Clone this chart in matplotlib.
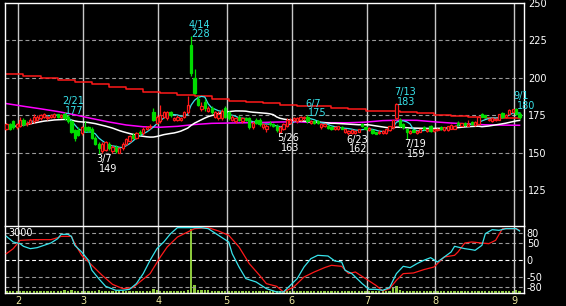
import numpy as np
import pandas as pd
import matplotlib
matplotlib.use('Agg')
import matplotlib.pyplot as plt

plt.rcParams['font.family'] = ['DejaVu Sans']

# daily candles, Jan 26 .. Sep 2
opens = [166, 169, 171, 167, 168, 172, 169, 170, 171, 172,
         173, 174, 173, 174, 174, 176, 174, 176, 174, 171,
         165, 165, 163, 167, 167, 166, 160, 156, 151, 152,
         156, 151, 154, 150, 153, 156, 158, 162, 160, 164,
         163, 166, 167, 177, 170, 171, 174, 173, 177, 172,
         172, 172, 174, 177, 222, 200, 186, 179, 184, 178,
         180, 174, 173, 173, 180, 177, 172, 171, 174, 171,
         173, 173, 167, 172, 172, 167, 166, 170, 169, 168,
         164, 166, 168, 170, 172, 171, 172, 173, 174, 170,
         171, 171, 167, 168, 168, 167, 166, 166, 167, 164,
         163, 163, 163, 164, 169, 167, 165, 165, 163.5, 163,
         163, 163, 165, 167, 173, 172, 169, 166, 163, 165,
         163, 164, 167, 164.5, 168, 164.5, 165, 167, 165, 165,
         166, 166, 170, 168, 170, 168, 170.5, 168.5, 169, 176,
         175, 171.5, 171, 171.5, 172, 176.5, 173.5, 176, 177, 179, 176]
highs = [170, 170, 172, 170, 174, 173, 171, 173, 176, 175,
         176, 176.5, 175, 176, 176.5, 176, 176, 177, 175, 172,
         166, 167, 168, 171, 168, 167, 161, 157, 157, 158,
         157, 155, 155, 154, 157, 160, 162, 163, 164, 165,
         167, 168, 169, 180, 175, 182, 178, 178, 178, 174,
         175, 174, 178, 188, 228, 206, 188, 184, 186, 181,
         181, 178, 178, 179, 181, 178, 175, 174, 175, 174,
         174, 174, 171, 173, 173, 170, 169, 171, 170, 169,
         168, 170, 173, 173, 174, 174, 174.5, 174.5, 175, 172,
         172, 171.5, 170, 170, 168.5, 167.5, 168, 168, 167.5, 166,
         165, 166, 165, 166, 170, 168, 167, 166, 164, 165,
         165, 166, 168, 172, 183, 173, 170, 166.5, 165, 166,
         165, 166, 167.5, 166, 168.5, 166, 166.5, 167.5, 167, 168,
         169, 168.5, 171, 170, 170.5, 172, 171, 171, 174, 176.5,
         175.5, 173, 173.5, 173, 176, 177, 176, 179, 179.5, 180, 177]
lows = [165, 165, 166, 166, 167, 168, 168, 169, 170, 171,
        172, 173, 172, 173, 173, 173, 173, 172, 170, 163,
        158, 161, 162, 164, 164, 159, 155, 149, 150, 151,
        152, 150, 150, 150, 152, 155, 157, 159, 159, 162,
        162, 165, 166, 171, 169, 170, 173, 172, 174, 171,
        171, 171, 173, 176, 201, 189, 181, 178, 178, 177,
        176, 173, 172, 172, 173, 172, 171, 170, 171, 170,
        171, 166, 166, 169, 168, 166, 164, 168, 167, 164,
        163, 165, 167, 169, 171, 170, 171, 172, 170, 169,
        169, 169, 166, 167, 166, 165, 165, 165, 166, 163,
        162, 162.5, 162.5, 163.5, 167, 165, 164.5, 162.5, 162.5, 162.5,
        162.5, 162.5, 164.5, 166, 172, 167, 166, 159, 162.5, 163.5,
        162.5, 163.5, 165, 164, 164, 164, 164.5, 165, 164.5, 164.5,
        165.5, 165.5, 168, 167.5, 168, 167.5, 168.5, 168, 168.5, 173.5,
        173, 171, 170.5, 171, 171.5, 173, 173, 175.5, 176.5, 175, 172.5]
closes = [169, 166, 167, 169, 172, 169, 170, 172, 174, 174,
          175, 176, 174, 175, 176, 174, 175, 173, 171, 164,
          160, 162, 167, 165, 165, 160, 156, 153, 156, 157,
          153, 154, 151, 153, 156, 159, 161, 160, 163, 163,
          166, 167, 168, 172, 174, 175, 177, 177, 175, 173,
          174, 173, 177, 182, 203, 190, 182, 181, 180, 180,
          177, 177, 176, 178, 174, 173, 174, 173, 172, 173,
          172, 167, 170, 170, 169, 169, 168, 169, 168, 165,
          167, 169, 172, 172, 173, 173, 174, 174, 171, 171,
          170, 169.5, 169, 169, 166.5, 165.5, 167, 167.5, 166, 165.5,
          164.5, 165, 164.5, 165.5, 167.5, 165.5, 166.5, 163, 162.8, 164,
          164.5, 166, 167.5, 171.5, 182.5, 168, 167, 164, 164.5, 164,
          164.5, 165.5, 165.5, 165.5, 164.5, 165.5, 166, 165.5, 167, 167.5,
          168.5, 168, 169, 169.5, 168.5, 169, 169, 170.5, 173.5, 174,
          173.5, 172.5, 173, 172.5, 175.5, 173.5, 175.5, 178.5, 179, 176, 173.5]
volume = [95, 90, 105, 95, 100, 90, 85, 95, 105, 100,
          95, 105, 90, 95, 100, 95, 105, 125, 115, 140,
          120, 105, 95, 110, 100, 115, 120, 125, 105, 100,
          95, 90, 100, 95, 90, 105, 95, 90, 95, 100,
          105, 95, 110, 190, 125, 115, 105, 100, 95, 90,
          95, 100, 115, 140, 2850, 380, 150, 135, 130, 125,
          110, 105, 100, 95, 105, 95, 90, 100, 95, 90,
          95, 100, 90, 95, 85, 90, 95, 85, 90, 95,
          100, 95, 90, 95, 90, 95, 100, 105, 110, 95,
          90, 85, 95, 90, 85, 90, 95, 90, 85, 95,
          100, 95, 90, 95, 100, 95, 90, 95, 100, 95,
          90, 95, 120, 260, 320, 150, 115, 120, 105, 95,
          90, 95, 90, 85, 95, 90, 85, 90, 95, 90,
          95, 90, 95, 100, 95, 90, 95, 105, 100, 105,
          95, 90, 95, 100, 105, 95, 100, 115, 110, 125, 105]

# longer averages
week_days = list(range(0, 151, 5))
ma_mid = [182.8, 181, 179.3, 177.5, 175.3, 172.8, 170.5, 168.5, 167.3, 167, 167.6,
          168.8, 169.6, 169.8, 170, 170.2, 170.5, 170.6, 170.2, 170, 170, 170.4,
          171.4, 171.7, 171.6, 170.6, 169.8, 169.2, 168.6, 168.4, 168.3]
ma_long = [202.3, 201, 199.8, 198.7, 197.5, 195.8, 194.2, 192.4, 190.8, 189.6, 188.6,
           187.7, 185.8, 184.8, 184, 183, 182, 181.5, 181, 180, 179, 178,
           177.6, 177.4, 176.2, 175.2, 174.3, 173.5, 173.2, 173.3, 173.6]

# oscillators in the lower panel
fast_days = [0, 2, 4, 5, 7, 9, 11, 13, 15, 16, 18, 19, 20, 22, 24, 25, 27, 29, 32, 34,
             36, 38, 40, 42, 44, 46, 48, 50, 53, 57, 59, 62, 65, 66, 68, 70, 73, 76, 79, 81,
             83, 85, 87, 89, 91, 94, 96, 98, 99, 101, 102, 104, 106, 108, 110, 112, 114, 116, 118, 120,
             122, 124, 126, 128, 130, 131, 134, 136, 137, 139, 140, 142, 144, 146, 149, 150]
fast_vals = [71, 54, 49, 41, 34, 37, 44, 51, 64, 77, 77, 71, 44, 24, -1, -31, -56, -79, -91, -91,
             -88, -71, -41, -1, 34, 54, 79, 97, 97, 97, 94, 74, 54, 19, -21, -56, -66, -86, -96, -96,
             -76, -56, -21, 4, 14, 12, -3, -6, -31, -41, -51, -71, -88, -88, -91, -83, -41, -19, -23, -11,
             -1, 7, -6, 9, 24, 41, 34, 31, 29, 44, 79, 91, 89, 94, 94, 87]
slow_days = [0, 2, 4, 8, 13, 15, 16, 19, 20, 22, 25, 28, 31, 34, 37, 39, 42, 45, 47, 50,
             53, 55, 59, 62, 65, 68, 71, 74, 76, 79, 81, 84, 87, 90, 93, 95, 98, 100, 102, 105,
             108, 110, 112, 114, 116, 119, 122, 125, 127, 128, 131, 132, 134, 136, 139, 141, 143, 145, 147, 149,
             150]
slow_vals = [19, 34, 59, 61, 61, 67, 71, 71, 49, 14, -16, -46, -73, -86, -83, -66, -41, 9, 39, 69,
             84, 94, 97, 87, 74, 39, -11, -46, -71, -79, -96, -81, -51, -36, -23, -16, -19, -41, -36, -56,
             -76, -93, -86, -61, -41, -39, -29, -21, -1, 9, 14, 24, 51, 54, 51, 49, 59, 94, 94, 94,
             89]

month_first = [4, 23, 45, 65, 84, 106, 126, 149]
month_names = ['2', '3', '4', '5', '6', '7', '8', '9']

mark_days = [17, 27, 54, 80, 88, 100, 114, 117, 149]
mark_dates = ['2/21', '3/7', '4/14', '5/26', '6/7', '6/23', '7/13', '7/19', '9/1']
mark_kind = ['hi', 'lo', 'hi', 'lo', 'hi', 'lo', 'hi', 'lo', 'hi']

CYAN = '#38e4ec'
RED = '#ff1a1a'
GREEN = '#00dc00'
GRID = '#9a9a9a'
VLINE = '#c8c8c8'

o = np.array(opens, float)
h = np.array(highs, float)
l = np.array(lows, float)
c = np.array(closes, float)
h = np.maximum(h, np.maximum(o, c))
l = np.minimum(l, np.minimum(o, c))
x = np.arange(len(c))

ma5 = pd.Series(c).rolling(5, min_periods=1).mean()
ma25 = pd.Series(c).rolling(25, min_periods=1).mean()

fig = plt.figure(figsize=(5.66, 3.06), dpi=100, facecolor='black')
W, H = 566, 306
left, right = 4.5, 524
ax = fig.add_axes([left / W, 1 - 226 / H, (right - left) / W, 223 / H], facecolor='black')
ax2 = fig.add_axes([left / W, 1 - 293.3 / H, (right - left) / W, 67.3 / H], facecolor='black')

xlim = (-0.55, 151.3)
vl = [m - 0.6 for m in month_first]

# ---- price panel
ax.set_xlim(*xlim)
ax.set_ylim(101, 250)
for p in [225, 200, 175, 150, 125]:
    ax.axhline(p, color=GRID, lw=0.8, ls=(0, (3.5, 2.5)), zorder=1)
for v in vl:
    ax.axvline(v, color=VLINE, lw=1, zorder=1)

ax.plot(week_days, ma_long, color=RED, lw=1.1, drawstyle='steps-post', zorder=2)
ax.plot(week_days, ma_mid, color='#ff00ff', lw=1.1, zorder=2)
ax.plot(x, ma25, color='white', lw=1.1, zorder=2)
ax.plot(x, ma5, color=CYAN, lw=0.9, zorder=2)

up = c >= o
col = np.where(up, RED, GREEN)
ax.vlines(x, l, h, colors=col, lw=0.9, zorder=3)
body = np.maximum(np.abs(c - o), 0.4)
ax.bar(x, body, bottom=np.minimum(o, c), width=0.66,
       color=np.where(up, 'black', GREEN), edgecolor=col, lw=0.9, zorder=4)

for i, d, k in zip(mark_days, mark_dates, mark_kind):
    if k == 'hi':
        ax.annotate(str(int(h[i])), (i, h[i]), xytext=(0.4, -0.9), textcoords='offset points',
                    color=CYAN, fontsize=7, ha='left', va='baseline', zorder=6)
        ax.annotate(d, (i, h[i]), xytext=(-1.8, 6.0), textcoords='offset points',
                    color=CYAN, fontsize=7, ha='left', va='baseline', zorder=6)
    else:
        ax.annotate(d, (i, l[i]), xytext=(-1.8, -5.8), textcoords='offset points',
                    color='white', fontsize=7, ha='left', va='baseline', zorder=6)
        ax.annotate(str(int(l[i])), (i, l[i]), xytext=(0.4, -12.6), textcoords='offset points',
                    color='white', fontsize=7, ha='left', va='baseline', zorder=6)

ax.set_xticks([])
ax.yaxis.tick_right()
ax.set_yticks([125, 150, 175, 200, 225, 250])
ax.tick_params(axis='y', length=0, pad=3, labelcolor='white', labelsize=7)
for s in ['top', 'right', 'left']:
    ax.spines[s].set_color('white')
    ax.spines[s].set_linewidth(1)
ax.spines['bottom'].set_visible(False)

# ---- oscillator / volume panel
axv = ax2.twinx()
axv.set_xlim(*xlim)
axv.set_ylim(0, 3000)
axv.bar(x, volume, width=0.66, color='#8cc83c', zorder=1)
axv.set_yticks([])
for s in axv.spines.values():
    s.set_visible(False)
ax2.set_zorder(axv.get_zorder() + 1)
ax2.patch.set_visible(False)

ax2.set_xlim(*xlim)
ax2.set_ylim(-100, 102)
for p in [80, 50, -50, -80]:
    ax2.axhline(p, color=GRID, lw=0.8, ls=(0, (3.5, 2.5)), zorder=1)
ax2.axhline(0, color='white', lw=0.8, ls=(0, (3.5, 2.5)), zorder=1)
for v in vl:
    ax2.axvline(v, color=VLINE, lw=1, zorder=1)
ax2.plot(slow_days, slow_vals, color=RED, lw=0.9, zorder=3)
ax2.plot(fast_days, fast_vals, color=CYAN, lw=0.9, zorder=3)

ax2.text(0.007, 0.975, '3000', transform=ax2.transAxes, color='white', fontsize=7,
         ha='left', va='top')

ax2.yaxis.tick_right()
ax2.set_yticks([80, 50, 0, -50, -80])
ax2.set_yticklabels(['80', '50', '0', '-50', '-80'])
ax2.tick_params(axis='y', length=0, pad=2, labelcolor='white', labelsize=7)
ax2.set_xticks(vl)
ax2.set_xticklabels(month_names)
ax2.tick_params(axis='x', length=0, pad=2, labelcolor='#eee8a0', labelsize=7)
for s in ax2.spines.values():
    s.set_color('white')
    s.set_linewidth(1)

fig.savefig('out.png', dpi=100, facecolor='black')
